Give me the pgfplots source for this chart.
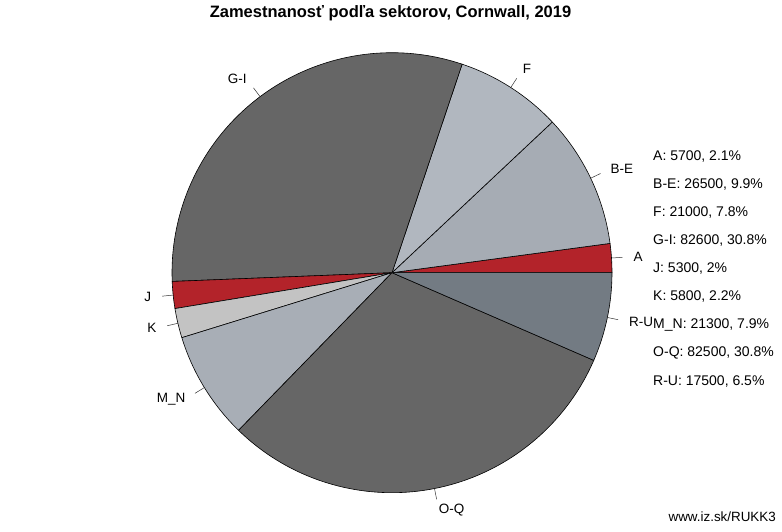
\documentclass[border=0pt]{standalone}
\usepackage{pgfplots}
\pgfplotsset{compat=1.18}
\usepackage{fontspec}
\setmainfont{Liberation Sans}
\definecolor{cRed}{HTML}{B3232A}
\definecolor{cBE}{HTML}{A6ACB4}
\definecolor{cF}{HTML}{B1B7BF}
\definecolor{cGI}{HTML}{666666}
\definecolor{cK}{HTML}{C3C3C3}
\definecolor{cMN}{HTML}{A8AEB6}
\definecolor{cRU}{HTML}{737B83}
\begin{document}
\begin{tikzpicture}
\begin{axis}[
  width=782bp, height=532bp, scale only axis,
  xmin=0, xmax=782, ymin=0, ymax=532,
  hide axis, clip=false,
]
\path[draw=none, fill=none] (axis cs:0,0) rectangle (axis cs:782,532);
% values in thousands: A, B-E, F, G-I, J, K, M_N, O-Q, R-U
\addplot[draw=none, forget plot] coordinates {(392,259.3)};
\pgfplotsextra{
  \def\total{268.2}
  \xdef\cum{0}
  \foreach \v/\col/\lab in {5.7/cRed/A, 26.5/cBE/B-E, 21.0/cF/F, 82.6/cGI/G-I, 5.3/cRed/J, 5.8/cK/K, 21.3/cMN/M\_N, 82.5/cGI/O-Q, 17.5/cRU/R-U}{
    \pgfmathsetmacro\a{\cum/\total*360}
    \pgfmathsetmacro\b{(\cum+\v)/\total*360}
    \pgfmathsetmacro\m{(\a+\b)/2}
    \pgfmathsetmacro\cm{cos(\m)}
    \fill[\col, draw=black, line width=0.6pt, line join=round]
      (axis cs:392,259.3) -- ++(\a:220bp) arc[start angle=\a, end angle=\b, radius=220bp] -- cycle;
    \draw[line width=0.5pt, black!80] (axis cs:392,259.3) ++(\m:220bp) -- ++(\m:11bp);
    \pgfmathparse{\cm>0 ? "west" : "east"}
    \edef\anc{\pgfmathresult}
    \node[anchor=\anc, inner sep=0pt, font=\fontsize{13.5bp}{15bp}\selectfont]
      at ([shift={(\m:242bp)}]axis cs:392,259.3) {\lab};
    \pgfmathparse{\cum+\v}
    \xdef\cum{\pgfmathresult}
  }
}
% legend text
\node[anchor=west, inner sep=0pt, font=\fontsize{14bp}{16bp}\selectfont] at (axis cs:653,375) {A: 5700, 2.1\%};
\node[anchor=west, inner sep=0pt, font=\fontsize{14bp}{16bp}\selectfont] at (axis cs:653,347) {B-E: 26500, 9.9\%};
\node[anchor=west, inner sep=0pt, font=\fontsize{14bp}{16bp}\selectfont] at (axis cs:653,319) {F: 21000, 7.8\%};
\node[anchor=west, inner sep=0pt, font=\fontsize{14bp}{16bp}\selectfont] at (axis cs:653,291) {G-I: 82600, 30.8\%};
\node[anchor=west, inner sep=0pt, font=\fontsize{14bp}{16bp}\selectfont] at (axis cs:653,263) {J: 5300, 2\%};
\node[anchor=west, inner sep=0pt, font=\fontsize{14bp}{16bp}\selectfont] at (axis cs:653,235) {K: 5800, 2.2\%};
\node[anchor=west, inner sep=0pt, font=\fontsize{14bp}{16bp}\selectfont] at (axis cs:653,207) {M\_N: 21300, 7.9\%};
\node[anchor=west, inner sep=0pt, font=\fontsize{14bp}{16bp}\selectfont] at (axis cs:653,179) {O-Q: 82500, 30.8\%};
\node[anchor=west, inner sep=0pt, font=\fontsize{14bp}{16bp}\selectfont] at (axis cs:653,150) {R-U: 17500, 6.5\%};
% title
\node[inner sep=0pt, font=\bfseries\fontsize{16.5bp}{18bp}\selectfont] at (axis cs:390.5,519) {Zamestnanosť podľa sektorov, Cornwall, 2019};
% source
\node[anchor=east, inner sep=0pt, font=\fontsize{13.4bp}{15bp}\selectfont] at (axis cs:776,15) {www.iz.sk/RUKK3};
\end{axis}
\end{tikzpicture}
\end{document}
